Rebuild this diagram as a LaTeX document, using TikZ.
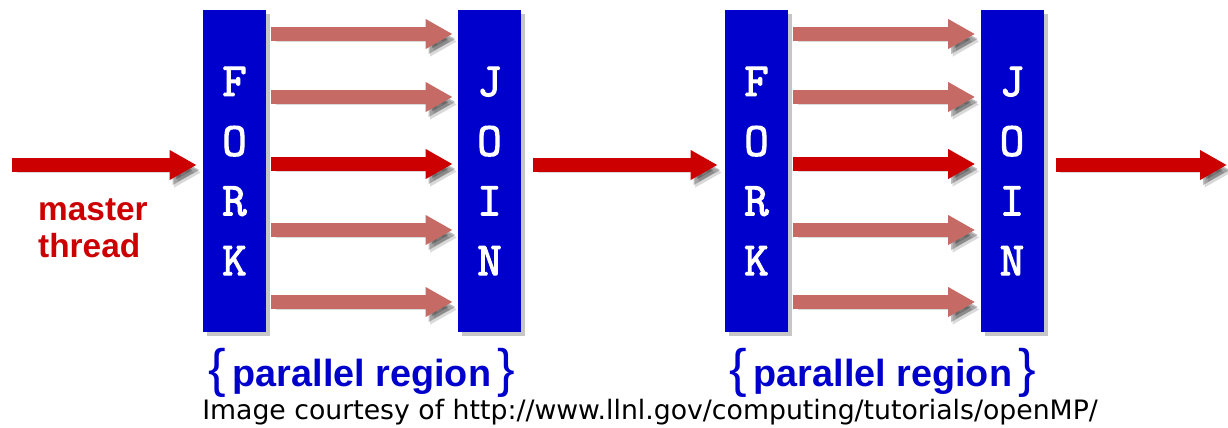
\documentclass[tikz,border=0pt]{standalone}
\usepackage{fontspec}
\setmainfont{Liberation Sans}
\newfontfamily\capfont{DejaVu Sans}
\newfontfamily\barfont[FakeBold=2.5]{Latin Modern Mono}
\usetikzlibrary{arrows.meta, shadows}

\definecolor{barblue}{RGB}{0,0,204}
\definecolor{thrred}{RGB}{204,0,0}
\definecolor{thrpink}{RGB}{198,106,102}

\newcommand{\regbrace}[1]{{\mdseries\fontsize{30}{30}\selectfont#1}}

\begin{document}
\begin{tikzpicture}[
    bar/.style={rectangle, fill=barblue, minimum width=1.26cm, minimum height=6.44cm, inner sep=0pt, text=white, align=center,
        font=\barfont\bfseries\fontsize{27}{34}\selectfont,
        drop shadow={shadow xshift=0.08cm, shadow yshift=-0.08cm, opacity=0.45}},
    thr/.style={line width=0.28cm, -{Triangle[width=0.56cm, length=0.54cm]},
        preaction={draw=black, opacity=0.15, transform canvas={shift={(0.09,-0.15)}}},
        preaction={draw=black, opacity=0.25, transform canvas={shift={(0.06,-0.1)}}}},
    master/.style={thr, draw=thrred},
    worker/.style={thr, draw=thrpink, shorten <=0.1cm, shorten >=0.1cm},
    region/.style={text=barblue, font=\bfseries\fontsize{21.5}{24}\selectfont}
]
\useasboundingbox (0,0) rectangle (24.56,-8.54);

% Fork and join bars
\node[bar] (fork1) at (4.69,-3.42) {F\\O\\R\\K};
\node[bar] (join1) at (9.79,-3.42) {J\\O\\I\\N};
\node[bar] (fork2) at (15.13,-3.42) {F\\O\\R\\K};
\node[bar] (join2) at (20.24,-3.42) {J\\O\\I\\N};

% Free ends of the master thread
\coordinate (start) at (0.24,-3.30);
\coordinate (stop) at (24.54,-3.30);

% Master thread
\draw[master, shorten >=0.12cm] (start) -- ([yshift=0.12cm]fork1.west);
\draw[master, shorten <=0.24cm, shorten >=0.14cm] ([yshift=0.12cm]join1.east) -- ([yshift=0.12cm]fork2.west);
\draw[master, shorten <=0.24cm] ([yshift=0.12cm]join2.east) -- (stop);

% Threads of the first parallel region
\draw[worker] ([yshift=2.74cm]fork1.east) -- ([yshift=2.74cm]join1.west);
\draw[worker] ([yshift=1.48cm]fork1.east) -- ([yshift=1.48cm]join1.west);
\draw[worker, draw=thrred] ([yshift=0.14cm]fork1.east) -- ([yshift=0.14cm]join1.west);
\draw[worker] ([yshift=-1.18cm]fork1.east) -- ([yshift=-1.18cm]join1.west);
\draw[worker] ([yshift=-2.62cm]fork1.east) -- ([yshift=-2.62cm]join1.west);

% Threads of the second parallel region
\draw[worker] ([yshift=2.74cm]fork2.east) -- ([yshift=2.74cm]join2.west);
\draw[worker] ([yshift=1.48cm]fork2.east) -- ([yshift=1.48cm]join2.west);
\draw[worker, draw=thrred] ([yshift=0.14cm]fork2.east) -- ([yshift=0.14cm]join2.west);
\draw[worker] ([yshift=-1.18cm]fork2.east) -- ([yshift=-1.18cm]join2.west);
\draw[worker] ([yshift=-2.62cm]fork2.east) -- ([yshift=-2.62cm]join2.west);

% Labels
\node[anchor=west, align=left, text=thrred, font=\bfseries\fontsize{19}{21}\selectfont] (mlabel) at (0.64,-4.56) {master\\thread};
\node[region] (reg1) at (7.24,-7.46) {\regbrace{\{}\,parallel region\,\regbrace{\}}};
\node[region] (reg2) at (17.66,-7.46) {\regbrace{\{}\,parallel region\,\regbrace{\}}};
\node[font=\capfont\fontsize{15.2}{18}\selectfont] (credit) at (13.0,-8.24) {Image courtesy of http://www.llnl.gov/computing/tutorials/openMP/};

\end{tikzpicture}
\end{document}
